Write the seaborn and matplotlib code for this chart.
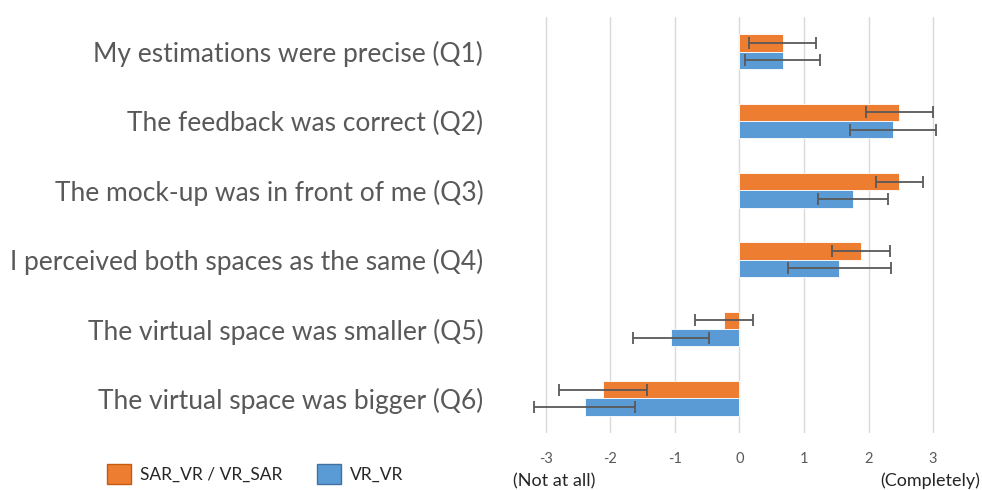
import matplotlib
matplotlib.use("Agg")
import matplotlib.pyplot as plt
from matplotlib.patches import Patch
import seaborn as sns
import pandas as pd

questions = [
    "My estimations were precise (Q1)",
    "The feedback was correct (Q2)",
    "The mock-up was in front of me (Q3)",
    "I perceived both spaces as the same (Q4)",
    "The virtual space was smaller (Q5)",
    "The virtual space was bigger (Q6)",
]
groups = ["SAR_VR / VR_SAR", "VR_VR"]
mean_sar = [0.67, 2.48, 2.48, 1.88, -0.24, -2.11]
mean_vr = [0.67, 2.38, 1.76, 1.55, -1.06, -2.40]
err_sar = [0.52, 0.52, 0.37, 0.45, 0.45, 0.68]
err_vr = [0.58, 0.67, 0.54, 0.80, 0.59, 0.78]
x_ticks = [-3, -2, -1, 0, 1, 2, 3]

orange = "#ED7D31"
blue = "#5B9BD5"
grey_text = "#595959"

df = pd.DataFrame({
    "question": questions * 2,
    "group": [groups[0]] * len(questions) + [groups[1]] * len(questions),
    "value": mean_sar + mean_vr,
})

sns.set_theme(style="white")
plt.rcParams["font.family"] = ["Lato", "DejaVu Sans"]

W, H = 982, 490
fig = plt.figure(figsize=(W / 100, H / 100), dpi=100)
# axes box in pixels: left 500, right 975, top 17, bottom 433
ax = fig.add_axes([500 / W, 1 - 433 / H, 475 / W, 416 / H])

sns.barplot(data=df, y="question", x="value", hue="group", orient="h",
            palette=[orange, blue], saturation=1, width=0.5, errorbar=None,
            edgecolor="white", linewidth=0.6, legend=False, ax=ax)

for container, errs in zip(ax.containers, [err_sar, err_vr]):
    for bar, e in zip(container, errs):
        xv = bar.get_x() + bar.get_width()
        yc = bar.get_y() + bar.get_height() / 2
        ax.errorbar(xv, yc, xerr=e, fmt="none", ecolor="#595959",
                    elinewidth=1.3, capsize=4, capthick=1.3, zorder=5)

ax.set_xlim(-3.71, 3.65)
ax.set_ylim(5.5, -0.5)
ax.set_xticks(x_ticks)
ax.set_xticklabels([str(t) for t in x_ticks])
for t in x_ticks:
    ax.axvline(t, color="#D9D9D9", lw=1, zorder=0)
ax.set_xlabel("")
ax.set_ylabel("")
for s in ax.spines.values():
    s.set_visible(False)
ax.tick_params(axis="x", length=0, pad=14, labelsize=10.5, labelcolor=grey_text)
ax.tick_params(axis="y", length=0, pad=12, labelsize=19, labelcolor=grey_text)

fig.text(513 / W, 1 - 481 / H, "(Not at all)", fontsize=13, color="#262626",
         ha="left", va="center")
fig.text(980 / W, 1 - 481 / H, "(Completely)", fontsize=13, color="#262626",
         ha="right", va="center")

handles = [Patch(facecolor=orange, edgecolor="#C55A11", lw=1),
           Patch(facecolor=blue, edgecolor="#41719C", lw=1)]
fig.legend(handles, groups, loc="center left",
           bbox_to_anchor=(91 / W, 1 - 474 / H), frameon=False, ncol=2,
           fontsize=12.5, handlelength=1.4, handleheight=1.4,
           handletextpad=0.5, columnspacing=2.0, labelcolor="#262626")

fig.savefig("out.png", dpi=100)
